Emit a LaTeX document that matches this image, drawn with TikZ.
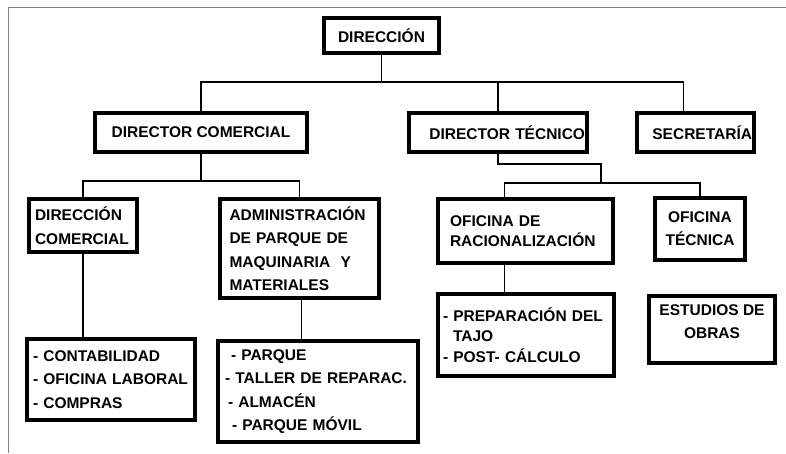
\documentclass[tikz,border=0pt]{standalone}
\usepackage{fontspec}
\setmainfont{Liberation Sans}
\uchyph=0
\newcommand\orgsize[1]{\bfseries\fontsize{15.5}{#1}\selectfont}
\begin{document}
\begin{tikzpicture}[x=1pt,y=-1pt,
    orgbox/.style={draw, line width=3.2pt, inner sep=0pt, font=\orgsize{23.5}},
    link/.style={line width=1.1pt}]
    \useasboundingbox (0,0) rectangle (786,453);
    \draw[gray, line width=1pt] (8,453) -- (8,7) -- (786,7);
    \node[orgbox, minimum width=115pt, minimum height=35pt] (dir) at (381.5,35.5) {DIRECCIÓN};
    \node[orgbox, minimum width=212pt, minimum height=39pt] (dcom) at (201,132.5) {DIRECTOR COMERCIAL};
    \node[orgbox, minimum width=178pt, minimum height=39pt, text width=174pt, align=right] (dtec) at (498,132.5) {DIRECTOR TÉCNICO};
    \node[orgbox, minimum width=117pt, minimum height=39pt, text width=113pt, align=right] (sec) at (695.5,132.5) {SECRETARÍA};
    \node[orgbox, minimum width=108pt, minimum height=53pt, text width=96pt, align=left, font=\orgsize{24}] (dcomb) at (83,225.5) {DIRECCIÓN\\COMERCIAL};
    \node[orgbox, minimum width=159pt, minimum height=99pt, text width=140pt, align=left] (adm) at (299.5,248.5)
        {ADMINISTRACIÓN\\DE PARQUE DE\\MAQUINARIA\ \ Y\\MATERIALES};
    \node[orgbox, minimum width=175pt, minimum height=64pt, text width=151pt, align=left, font=\orgsize{20}] (ofrac) at (525.5,231)
        {OFICINA DE\\RACIONALIZACIÓN};
    \node[orgbox, minimum width=90pt, minimum height=62pt, align=center, font=\orgsize{23}] (oftec) at (700,229) {OFICINA\\TÉCNICA};
    \node[orgbox, minimum width=168pt, minimum height=81pt, text width=156pt, align=left] (contab) at (111,379.5)
        {- CONTABILIDAD\\- OFICINA LABORAL\\- COMPRAS};
    \node[orgbox, minimum width=200pt, minimum height=101pt, text width=186pt, align=left] (parq) at (318,391.5)
        {\hspace*{6pt}- PARQUE\\- TALLER DE REPARAC.\\\hspace*{3pt}- ALMACÉN\\\hspace*{7pt}- PARQUE MÓVIL};
    \node[orgbox, minimum width=176pt, minimum height=82pt, text width=166pt, align=left, font=\orgsize{20.5}] (prep) at (526,335)
        {- PREPARACIÓN DEL\\\hspace*{10pt}TAJO\\- POST- CÁLCULO};
    \node[orgbox, minimum width=126pt, minimum height=67pt, align=center] (est) at (712,329.5)
        {ESTUDIOS DE\\OBRAS\\[-8pt]\mbox{}};
    \coordinate (busA) at (0,82);
    \coordinate (busB) at (0,181);
    \coordinate (busC) at (0,183);
    \coordinate (jog) at (601,164);
    \draw[link] (dir.south) -- (dir.south |- busA);
    \draw[link] (dcom.north) |- ([xshift=-12pt]sec.north |- busA) -- ([xshift=-12pt]sec.north);
    \draw[link] (dtec.north) -- (dtec.north |- busA);
    \draw[link] (dcom.south) -- (dcom.south |- busB);
    \draw[link] (dcomb.north) |- (adm.north |- busB) -- (adm.north);
    \draw[link] (dcomb.south) -- (dcomb.south |- contab.north);
    \draw[link] ([xshift=2pt]adm.south) -- ([xshift=2pt]adm.south |- parq.north);
    \draw[link] (dtec.south) |- (jog) -- (jog |- busC);
    \draw[link] ([xshift=-21pt]ofrac.north) |- (oftec.north |- busC) -- (oftec.north);
    \draw[link] ([xshift=-21pt]ofrac.south) -- ([xshift=-21pt]ofrac.south |- prep.north);
\end{tikzpicture}
\end{document}
